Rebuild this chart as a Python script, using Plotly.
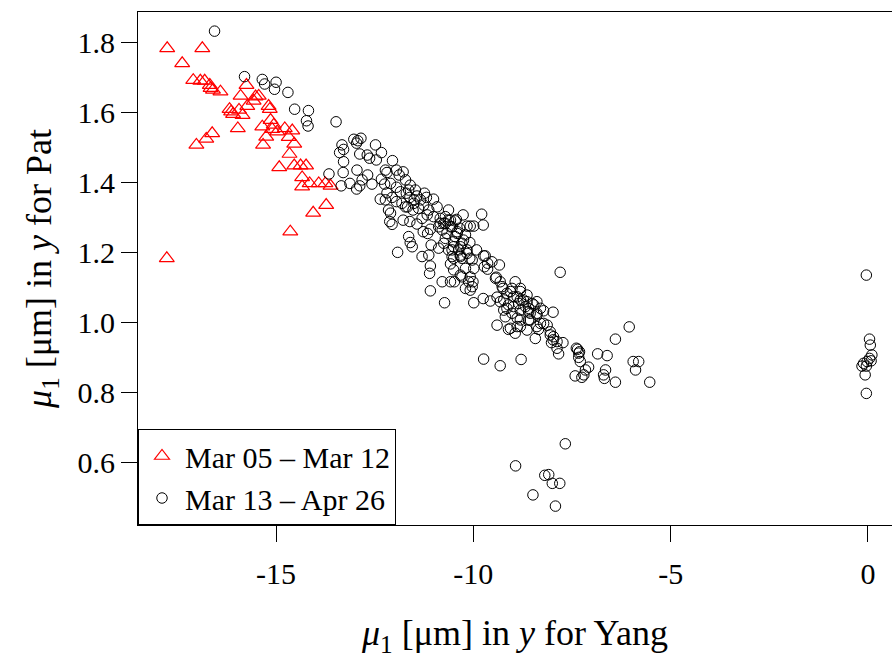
import plotly.graph_objs as go

## datos

# Mar 05 - Mar 12 (triangulos rojos)
rojo_x = [-17.76, -16.87, -17.38, -17.10, -16.92, -16.81, -16.68, -16.66, -16.60, -16.41,
          -15.75, -15.90, -15.52, -15.44, -15.57, -15.73, -15.19, -15.16, -16.18, -16.14,
          -15.94, -15.85, -16.09, -15.97, -16.62, -16.77, -17.02, -15.35, -15.14, -15.06,
          -15.10, -14.97, -14.78, -14.59, -15.25, -14.68, -15.33, -14.54, -14.66, -14.92,
          -14.54, -14.38, -14.24, -14.34, -14.15, -13.92, -13.75, -13.62, -14.34, -13.73,
          -14.06, -14.64, -17.77]
rojo_y = [1.782, 1.782, 1.739, 1.691, 1.689, 1.689, 1.677, 1.668, 1.663, 1.658,
          1.677, 1.646, 1.644, 1.646, 1.632, 1.617, 1.617, 1.608, 1.608, 1.601,
          1.606, 1.591, 1.594, 1.553, 1.539, 1.523, 1.506, 1.558, 1.577, 1.563,
          1.551, 1.544, 1.553, 1.547, 1.529, 1.528, 1.506, 1.509, 1.480, 1.442,
          1.447, 1.447, 1.447, 1.413, 1.396, 1.396, 1.396, 1.389, 1.387, 1.334,
          1.312, 1.258, 1.182]

# Mar 13 - Apr 26 (circulos negros)
negro_x = [-16.56, -15.80, -15.35, -15.29, -15.00, -15.04, -14.70, -14.53, -14.18, -14.23,
           -14.19, -13.48, -13.66, -13.03, -12.93, -12.85, -12.96, -13.33, -13.29, -13.39,
           -12.48, -12.33, -12.88, -12.69, -12.63, -12.46, -13.29, -12.05, -12.95, -13.30,
           -12.68, -12.23, -12.19, -11.95, -11.78, -11.88, -12.82, -13.13, -13.35, -12.96,
           -12.88, -12.57, -12.33, -12.25, -12.10, -11.95, -11.72, -11.60, -11.47, -11.85,
           -12.19, -12.36, -12.23, -12.06, -11.70, -11.61, -11.43, -11.24, -11.19, -11.01,
           -10.92, -11.95, -11.81, -11.67, -11.51, -11.39, -11.26, -11.13, -12.15, -12.10,
           -12.06, -12.12, -11.78, -11.61, -11.43, -11.30, -11.17, -11.01, -10.84, -10.63,
           -10.26, -10.43, -10.71, -10.88, -11.09, -11.27, -11.16, -10.54, -10.35, -10.16,
           -10.67, -10.46, -10.25, -11.64, -11.60, -11.55, -11.07, -10.88, -10.75, -10.54,
           -10.33, -11.92, -11.30, -11.13, -10.54, -10.33, -10.16, -9.79, -9.75, -10.08,
           -9.70, -9.64, -9.34, -9.72, -10.58, -10.50, -11.09, -11.11, -10.79, -10.58,
           -10.48, -10.29, -10.20, -10.08, -10.01, -10.08, -11.09, -10.73, -9.99, -9.75,
           -9.57, -9.42, -9.32, -8.94, -9.25, -9.06, -8.81, -7.80, -9.40, -9.23,
           -8.98, -8.81, -8.64, -8.47, -8.30, -7.98, -9.15, -8.98, -8.81, -8.60,
           -8.39, -8.22, -9.40, -9.11, -8.89, -8.64, -8.35, -8.81, -8.60, -8.94,
           -8.43, -9.74, -9.32, -8.79, -8.05, -7.98, -7.73, -7.88, -7.84, -7.39,
           -7.42, -7.33, -9.99, -10.46, -10.75, -10.58, -10.41, -10.20, -10.71, -10.50,
           -10.29, -10.09, -10.63, -10.37, -10.16, -9.92, -10.50, -10.29, -10.03, -9.74,
           -9.53, -9.64, -10.20, -9.99, -10.33, -10.12, -10.03, -9.44, -9.27, -9.02,
           -9.15, -8.89, -8.64, -9.32, -9.11, -8.85, -8.68, -8.51, -8.39, -9.23,
           -9.02, -8.56, -8.39, -9.19, -8.89, -8.56, -8.30, -8.13, -9.06, -8.81,
           -8.39, -8.05, -7.97, -7.88, -8.02, -8.22, -6.05, -6.40, -7.36, -7.31,
           -7.33, -7.29, -7.08, -7.16, -7.20, -7.25, -6.85, -6.61, -6.65, -6.70,
           -6.68, -6.40, -5.95, -5.81, -5.89, -5.53, -7.67, -8.93, -8.19, -8.09,
           -8.00, -7.81, -8.49, -7.92, -0.04, 0.04, 0.06, 0.10, 0.04, -0.02,
           -0.11, -0.15, -0.04, 0.08, -0.07, -0.04, -11.64, -11.50, -11.34, -11.72,
           -11.53, -10.84, -10.63, -10.79, -10.41, -10.71, -10.58, -10.50, -10.33, -10.09,
           -8.73, -8.60, -8.81]
negro_y = [1.831, 1.701, 1.693, 1.680, 1.685, 1.665, 1.656, 1.608, 1.604, 1.575,
           1.560, 1.572, 1.423, 1.522, 1.518, 1.525, 1.511, 1.506, 1.493, 1.484,
           1.506, 1.484, 1.480, 1.477, 1.468, 1.463, 1.458, 1.461, 1.434, 1.427,
           1.420, 1.434, 1.427, 1.434, 1.429, 1.420, 1.406, 1.396, 1.389, 1.380,
           1.389, 1.394, 1.408, 1.394, 1.396, 1.385, 1.406, 1.391, 1.377, 1.372,
           1.369, 1.351, 1.349, 1.356, 1.368, 1.356, 1.360, 1.368, 1.356, 1.351,
           1.329, 1.344, 1.339, 1.329, 1.339, 1.325, 1.334, 1.320, 1.320, 1.311,
           1.279, 1.287, 1.291, 1.287, 1.280, 1.296, 1.306, 1.301, 1.296, 1.320,
           1.306, 1.293, 1.282, 1.272, 1.265, 1.258, 1.253, 1.272, 1.268, 1.274,
           1.253, 1.244, 1.234, 1.244, 1.227, 1.215, 1.220, 1.211, 1.225, 1.206,
           1.215, 1.199, 1.187, 1.191, 1.187, 1.187, 1.196, 1.308, 1.277, 1.274,
           1.189, 1.168, 1.163, 1.158, 1.166, 1.149, 1.160, 1.139, 1.115, 1.115,
           1.115, 1.129, 1.096, 1.091, 1.115, 1.129, 1.089, 1.055, 1.055, 1.067,
           1.060, 1.128, 1.115, 1.115, 1.096, 1.087, 1.087, 1.142, 1.071, 1.063,
           1.072, 1.063, 1.058, 1.049, 1.039, 1.028, 1.039, 1.044, 1.034, 1.029,
           1.025, 1.032, 0.991, 0.979, 0.987, 0.977, 0.979, 1.006, 1.006, 0.968,
           0.953, 0.894, 0.875, 0.893, 0.963, 0.949, 0.941, 0.925, 0.909, 0.925,
           0.846, 0.911, 1.274, 1.289, 1.282, 1.272, 1.253, 1.249, 1.239, 1.229,
           1.225, 1.227, 1.206, 1.206, 1.206, 1.206, 1.182, 1.182, 1.177, 1.189,
           1.172, 1.151, 1.153, 1.153, 1.134, 1.115, 1.101, 1.125, 1.101, 1.096,
           1.082, 1.072, 1.077, 1.058, 1.049, 1.053, 1.044, 1.053, 1.058, 1.034,
           1.025, 1.025, 1.020, 1.015, 1.011, 1.006, 0.996, 0.991, 0.982, 0.987,
           0.987, 0.972, 0.958, 0.944, 0.941, 0.996, 0.986, 0.951, 0.922, 0.915,
           0.899, 0.887, 0.871, 0.863, 0.849, 0.842, 0.909, 0.904, 0.863, 0.849,
           0.839, 0.828, 0.887, 0.887, 0.863, 0.828, 0.652, 0.589, 0.562, 0.564,
           0.539, 0.539, 0.506, 0.474, 1.134, 0.951, 0.934, 0.906, 0.896, 0.887,
           0.882, 0.874, 0.874, 0.889, 0.849, 0.796, 1.377, 1.349, 1.349, 1.329,
           1.320, 1.282, 1.291, 1.263, 1.258, 1.301, 1.291, 1.215, 1.191, 1.182,
           1.063, 1.039, 1.096]

etiquetas = ['Mar 05 – Mar 12', 'Mar 13 – Apr 26']
ticks_x = [-15, -10, -5, 0]
ticks_y = [0.6, 0.8, 1.0, 1.2, 1.4, 1.6, 1.8]

fuente = dict(family='Liberation Serif', size=30, color='black')

fig = go.Figure()
fig.add_trace(go.Scatter(x=rojo_x, y=rojo_y, mode='markers', name=etiquetas[0],
                         marker=dict(symbol='triangle-up-open', size=13, color='red',
                                     line=dict(width=1.2, color='red'))))
fig.add_trace(go.Scatter(x=negro_x, y=negro_y, mode='markers', name=etiquetas[1],
                         marker=dict(symbol='circle-open', size=10.5, color='black',
                                     line=dict(width=1, color='black'))))

fig.update_layout(width=892, height=658, margin=dict(l=138, r=0, t=12, b=133),
                  plot_bgcolor='white', paper_bgcolor='white', font=fuente,
                  hovermode=False,
                  legend=dict(x=0, y=0, xanchor='left', yanchor='bottom',
                              bordercolor='black', borderwidth=1, bgcolor='white',
                              font=fuente, tracegroupgap=0, itemwidth=36))
fig.update_xaxes(range=[-18.5, 0.61], tickvals=ticks_x, ticktext=[str(t) for t in ticks_x],
                 showgrid=False, zeroline=False, showline=True, linewidth=1, linecolor='black',
                 mirror=True, ticks='outside', ticklen=16, tickcolor='black', tickwidth=1,
                 ticklabelstandoff=6, automargin=False,
                 title=dict(text='<i>μ</i><sub>1</sub> [μm] in <i>y</i> for Yang', standoff=38))
fig.update_yaxes(range=[0.42, 1.8857], tickvals=ticks_y, ticktext=['%.1f' % t for t in ticks_y],
                 showgrid=False, zeroline=False, showline=True, linewidth=1, linecolor='black',
                 ticks='outside', ticklen=16, tickcolor='black', tickwidth=1,
                 ticklabelstandoff=0, automargin=False,
                 title=dict(text='<i>μ</i><sub>1</sub> [μm] in <i>y</i> for Pat', standoff=14))

# quitar el margen de la pagina para que la figura quede en la esquina
fig.write_html('out.html', config={'displayModeBar': False},
               post_script="document.body.style.margin='0';")
